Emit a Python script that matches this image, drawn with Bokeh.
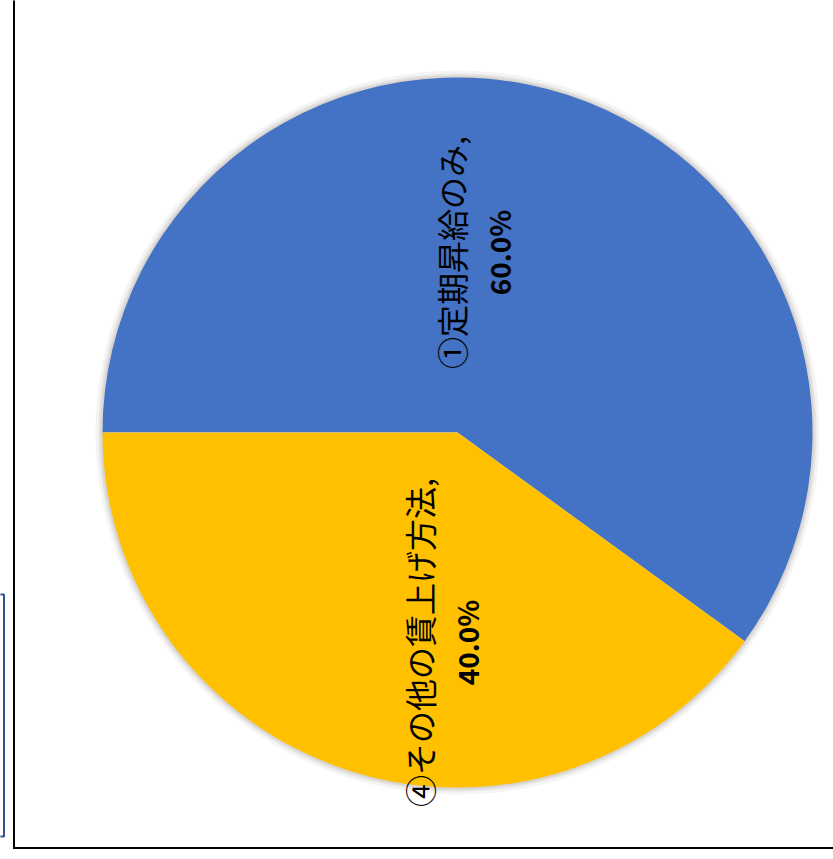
import numpy as np
from bokeh.plotting import figure
from bokeh.models import ColumnDataSource
from bokeh.core.properties import value
from bokeh.embed import file_html
from bokeh.resources import INLINE

# ---- data ----
categories = ["①定期昇給のみ", "④その他の賃上げ方法"]
shares = [60.0, 40.0]
colors = ["#4472C4", "#FFC000"]

# ---- layout constants (pixel-based data space) ----
W, H = 833, 859
CX, CY, R = 457, 427, 355
label_pos = [(450, 607), (418, 217)]   # centre of first label line
line_gap = 48

fr = np.array(shares) / sum(shares)
cum = np.concatenate([[0], np.cumsum(fr)])
start = np.pi - 2 * np.pi * cum[:-1]
end = np.pi - 2 * np.pi * cum[1:]

src = ColumnDataSource(dict(start=start, end=end, color=colors,
                            cat=categories, share=shares))

p = figure(width=W, height=H, x_range=(0, W), y_range=(0, H),
           output_backend="svg", toolbar_location=None, min_border=0)
p.axis.visible = False
p.grid.visible = False
p.outline_line_color = None
p.background_fill_color = "white"

# soft shadow rim
p.annulus(x=CX, y=CY, inner_radius=R - 1, outer_radius=R + 7,
          fill_color="#f4f4f4", line_color=None)
p.annulus(x=CX, y=CY, inner_radius=R - 1, outer_radius=R + 4,
          fill_color="#e6e4e2", line_color=None)
p.annulus(x=CX, y=CY, inner_radius=R - 1, outer_radius=R + 2,
          fill_color="#d8d4d1", line_color=None)

p.wedge(x=CX, y=CY, radius=R, start_angle="start", end_angle="end",
        direction="clock", fill_color="color", line_color=None, source=src)

lx = [pt[0] for pt in label_pos]
ly = [pt[1] for pt in label_pos]
p.text(x=lx, y=ly, text=[c + "," for c in categories], angle=np.pi / 2,
       text_align="center", text_baseline="middle", text_color="black",
       text_font=value("Noto Sans CJK JP"), text_font_size="32px")
p.text(x=[v + line_gap for v in lx], y=ly, text=[f"{s:.1f}%" for s in shares],
       angle=np.pi / 2, text_align="center", text_baseline="middle",
       text_color="black", text_font=value("Noto Sans CJK JP"),
       text_font_style="bold", text_font_size="28px")

# frame lines (left and bottom only)
p.segment(x0=[13.5, 12.5], y0=[10.5, 11.5], x1=[13.5, W + 5], y1=[H + 5, 11.5],
          line_color="black", line_width=2)
# partial box at far left
p.quad(left=-10, right=3.5, bottom=23, top=265, fill_color=None,
       line_color="#2F5597", line_width=2)

open("out.html", "w").write(file_html(p, INLINE))
